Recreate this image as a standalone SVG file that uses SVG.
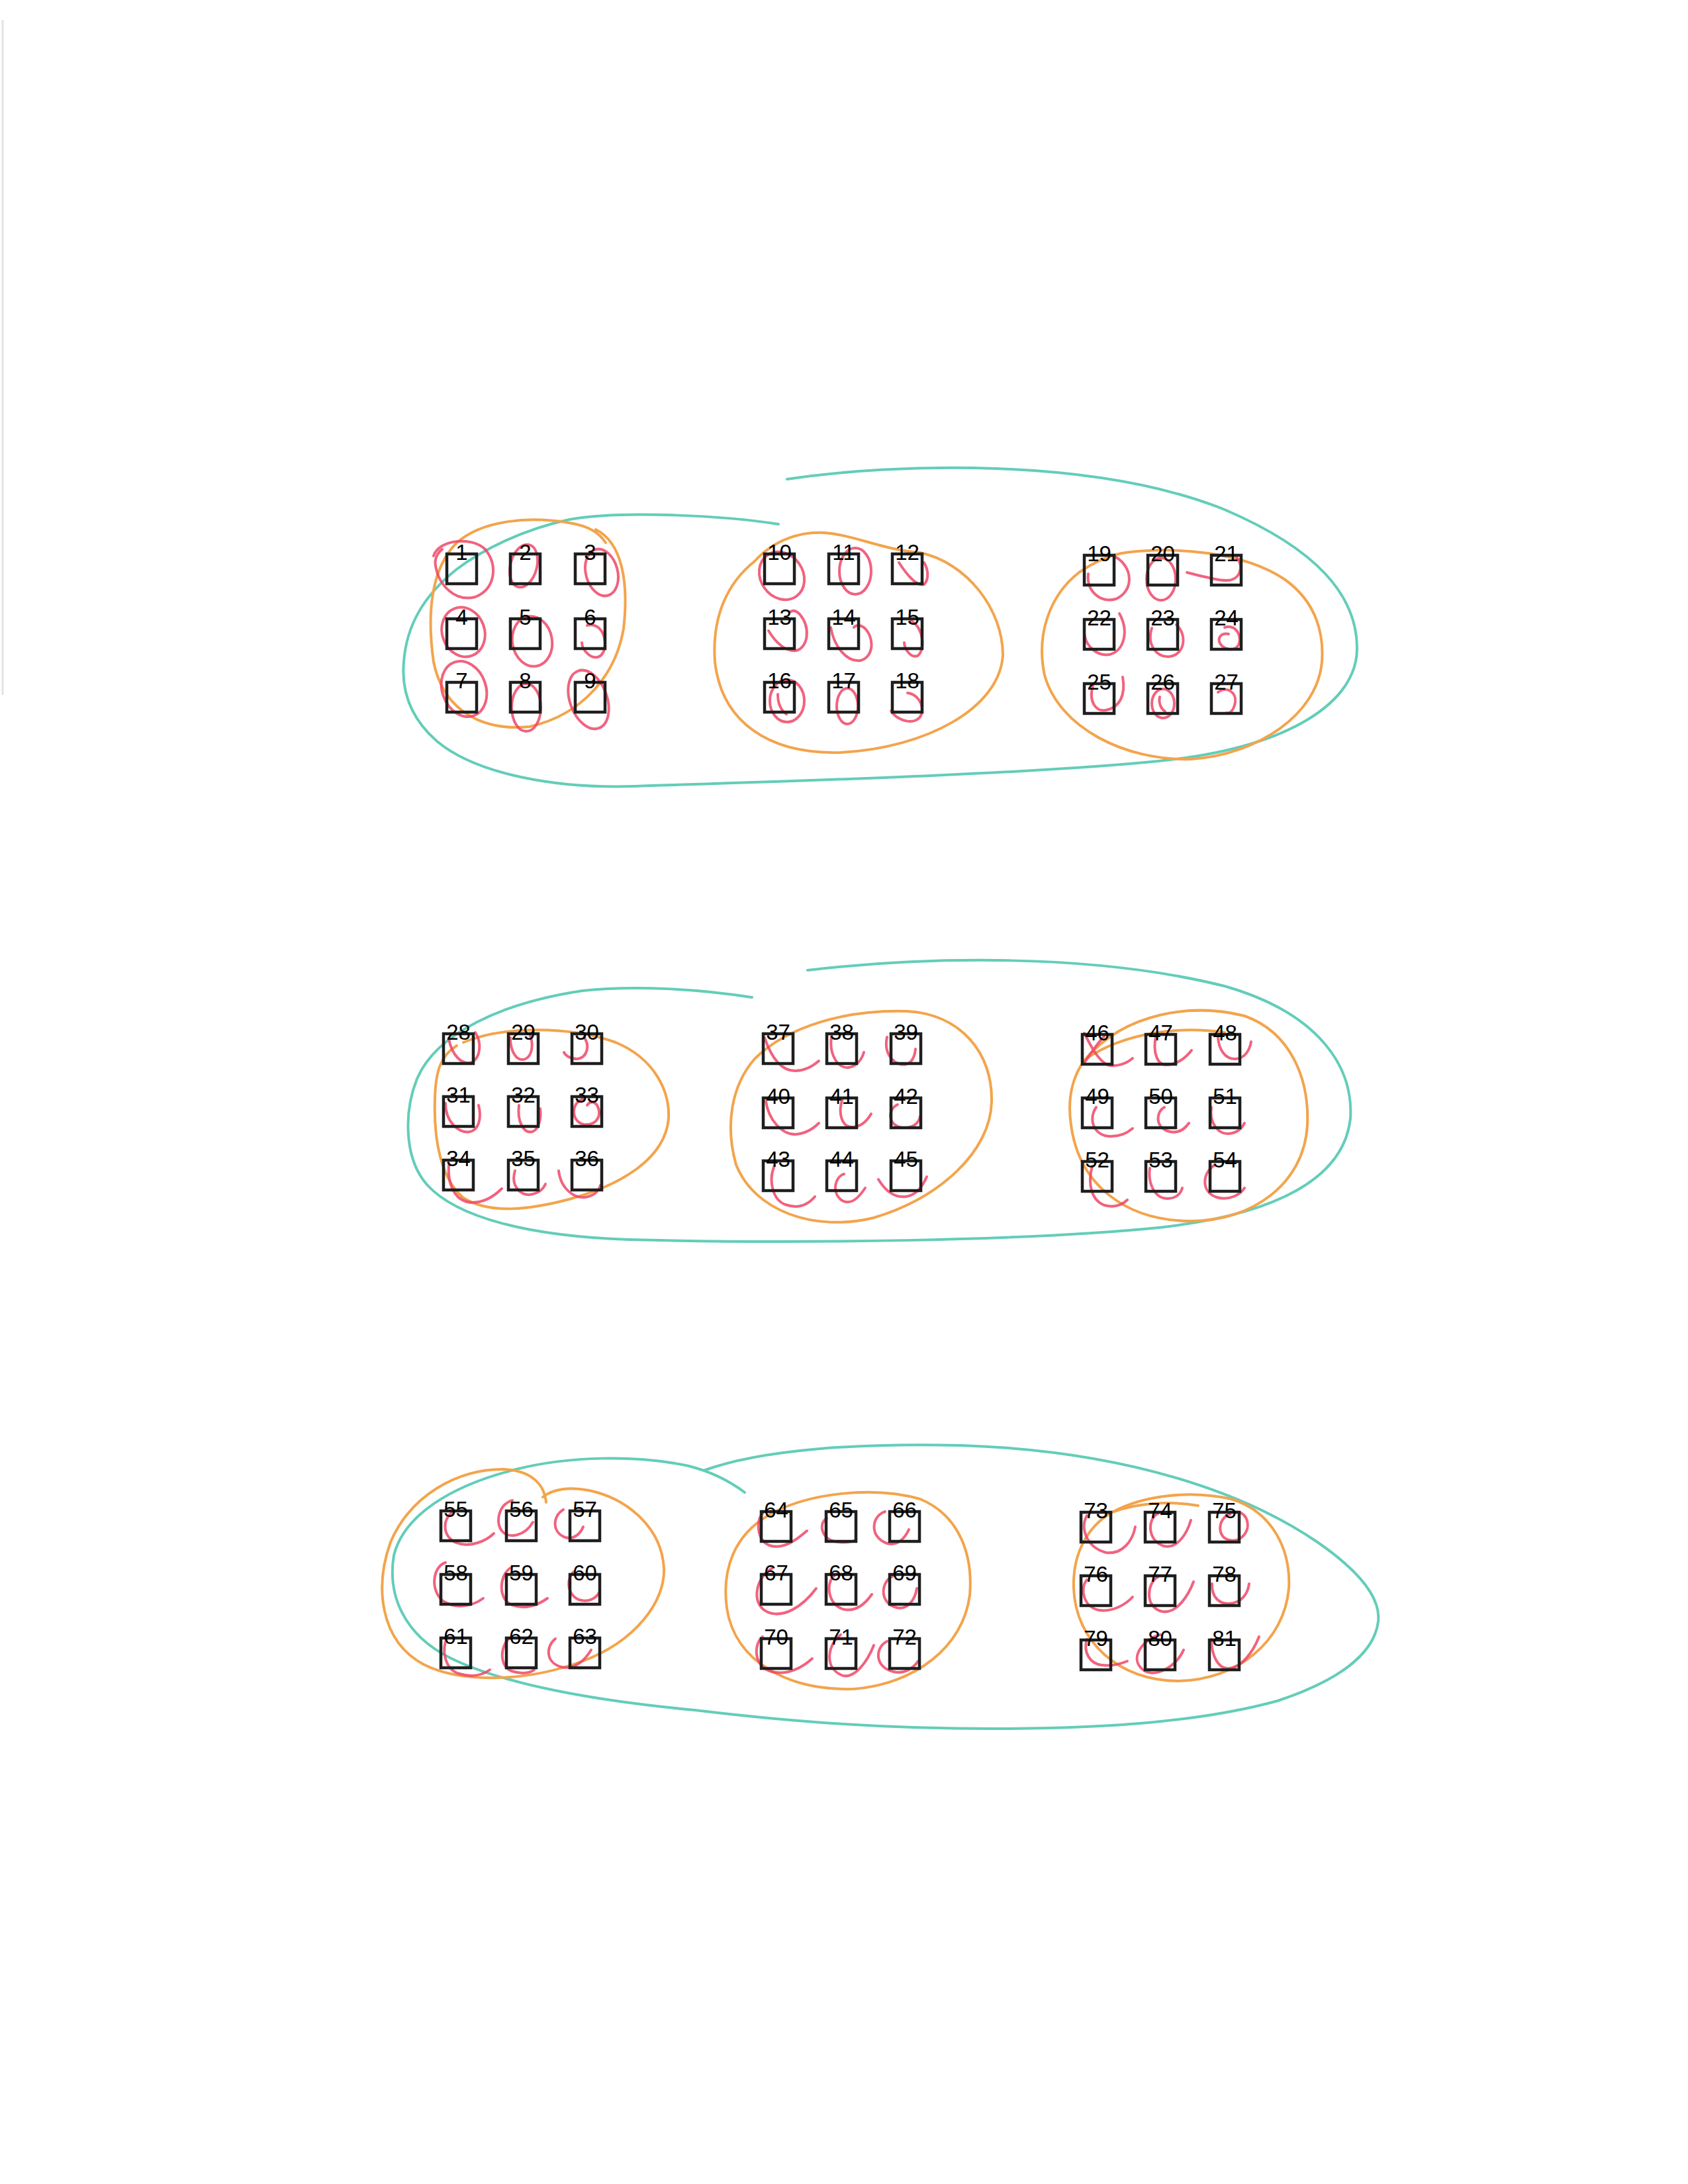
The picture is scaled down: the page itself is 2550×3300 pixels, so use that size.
<svg xmlns="http://www.w3.org/2000/svg" width="2550" height="3300" viewBox="0 0 2550 3300">
<style>
.sq{fill:none;stroke:#1e1e1e;stroke-width:4.5}
.lbl{font-family:"Liberation Sans",Arial,sans-serif;font-size:33px;text-anchor:middle;fill:#000}
.r{fill:none;stroke:#ee4767;stroke-width:4;stroke-linecap:round;opacity:0.85}
.o{fill:none;stroke:#f3a44c;stroke-width:4;stroke-linecap:round}
.t{fill:none;stroke:#63cdb9;stroke-width:4;stroke-linecap:round}
</style>
<rect x="0" y="0" width="2550" height="3300" fill="#fff"/>
<line x1="4" y1="30" x2="4" y2="1050" stroke="#e2e2e2" stroke-width="3"/>
<g id="groupings">
<path class="t" d="M 1189 724 C 1350 700, 1650 690, 1850 770 C 1990 830, 2050 900, 2050 980 C 2050 1060, 1950 1130, 1750 1150 C 1550 1170, 1200 1180, 960 1188 C 840 1192, 720 1170, 660 1120 C 620 1085, 606 1045, 610 1000 C 614 945, 640 900, 690 860 C 730 830, 790 800, 860 785 C 940 770, 1100 780, 1176 792"/>
<path class="o" d="M 900 800 C 940 820, 950 880, 942 950 C 930 1020, 880 1080, 800 1098 C 730 1105, 670 1075, 655 1000 C 645 930, 650 860, 690 820 C 730 785, 800 780, 860 790 C 890 795, 905 805, 915 820"/>
<path class="o" d="M 1140 848 C 1170 815, 1210 803, 1245 805 C 1290 808, 1330 830, 1390 835 C 1460 850, 1515 920, 1515 990 C 1510 1070, 1400 1130, 1270 1137 C 1160 1140, 1090 1090, 1080 1000 C 1075 930, 1100 880, 1140 848 Z"/>
<path class="o" d="M 1700 835 C 1780 825, 1880 835, 1940 875 C 1990 910, 2000 960, 1997 1000 C 1990 1080, 1900 1140, 1800 1147 C 1700 1150, 1600 1100, 1578 1020 C 1565 960, 1585 900, 1630 865 C 1655 848, 1680 838, 1700 835 Z"/>
<path class="t" d="M 1220 1466 C 1400 1445, 1650 1440, 1850 1490 C 1990 1530, 2045 1610, 2040 1690 C 2030 1780, 1930 1835, 1750 1855 C 1550 1875, 1200 1880, 950 1873 C 800 1868, 690 1840, 645 1790 C 610 1750, 610 1680, 630 1630 C 660 1560, 760 1515, 880 1497 C 960 1488, 1060 1495, 1136 1507"/>
<path class="o" d="M 700 1575 C 760 1550, 860 1550, 930 1575 C 990 1600, 1012 1650, 1010 1690 C 1005 1750, 940 1790, 860 1812 C 800 1828, 740 1835, 700 1810 C 665 1780, 655 1720, 657 1660 C 658 1620, 665 1595, 690 1580"/>
<path class="o" d="M 1140 1600 C 1190 1550, 1280 1525, 1370 1528 C 1450 1532, 1500 1590, 1498 1665 C 1496 1740, 1420 1810, 1320 1840 C 1230 1862, 1140 1830, 1112 1760 C 1095 1700, 1105 1640, 1140 1600 Z"/>
<path class="o" d="M 1640 1600 C 1700 1530, 1800 1515, 1880 1535 C 1950 1560, 1978 1630, 1975 1700 C 1970 1790, 1890 1845, 1800 1845 C 1700 1845, 1630 1790, 1618 1700 C 1612 1660, 1620 1625, 1640 1600 C 1700 1560, 1780 1550, 1850 1560"/>
<path class="t" d="M 1063 2222 C 1150 2190, 1300 2180, 1452 2184 C 1700 2192, 1880 2255, 1990 2330 C 2055 2375, 2086 2415, 2082 2450 C 2076 2500, 2020 2540, 1930 2570 C 1820 2600, 1680 2612, 1500 2612 C 1300 2612, 1150 2596, 1050 2584 C 900 2570, 760 2545, 680 2505 C 610 2470, 585 2410, 595 2350 C 610 2290, 680 2245, 780 2220 C 860 2200, 960 2198, 1040 2215 C 1080 2225, 1105 2240, 1125 2255"/>
<path class="o" d="M 825 2270 C 822 2240, 800 2222, 760 2220 C 690 2220, 620 2260, 590 2330 C 565 2400, 575 2480, 640 2515 C 700 2545, 800 2540, 880 2510 C 960 2480, 1005 2420, 1003 2370 C 1000 2310, 950 2265, 890 2252 C 860 2246, 835 2250, 820 2262"/>
<path class="o" d="M 1160 2290 C 1220 2255, 1320 2245, 1390 2265 C 1450 2290, 1470 2350, 1465 2410 C 1455 2490, 1380 2545, 1290 2552 C 1190 2555, 1110 2510, 1098 2430 C 1090 2370, 1110 2320, 1160 2290 Z"/>
<path class="o" d="M 1680 2285 C 1730 2258, 1800 2252, 1860 2265 C 1925 2285, 1950 2345, 1947 2400 C 1940 2480, 1870 2538, 1780 2540 C 1690 2540, 1625 2480, 1622 2400 C 1620 2345, 1645 2305, 1680 2285 C 1720 2270, 1770 2268, 1810 2275"/>
</g>
<g id="nodes">
<g id="n1" transform="translate(673,835)"><path class="r" d="M -18 5 C -10 -20, 40 -25, 60 -5 C 80 20, 75 55, 45 67 C 15 75, -10 50, -15 20 C -17 10, -12 0, -5 -5"/><rect class="sq" x="2" y="2" width="45" height="45"/><text class="lbl" x="24.5" y="11">1</text></g>
<g id="n2" transform="translate(769,835)"><ellipse class="r" cx="22" cy="20" rx="20" ry="33" transform="rotate(15 22 20)"/><rect class="sq" x="2" y="2" width="45" height="45"/><text class="lbl" x="24.5" y="11">2</text></g>
<g id="n3" transform="translate(867,835)"><ellipse class="r" cx="42" cy="30" rx="24" ry="36" transform="rotate(-15 42 30)"/><rect class="sq" x="2" y="2" width="45" height="45"/><text class="lbl" x="24.5" y="11">3</text></g>
<g id="n4" transform="translate(673,933)"><ellipse class="r" cx="27" cy="22" rx="32" ry="38" transform="rotate(-20 27 22)"/><rect class="sq" x="2" y="2" width="45" height="45"/><text class="lbl" x="24.5" y="11">4</text></g>
<g id="n5" transform="translate(769,933)"><ellipse class="r" cx="35" cy="36" rx="30" ry="38" transform="rotate(-10 35 36)"/><rect class="sq" x="2" y="2" width="45" height="45"/><text class="lbl" x="24.5" y="11">5</text></g>
<g id="n6" transform="translate(867,933)"><path class="r" d="M 20 12 C 45 5, 55 45, 40 58 C 28 66, 12 50, 12 38"/><rect class="sq" x="2" y="2" width="45" height="45"/><text class="lbl" x="24.5" y="11">6</text></g>
<g id="n7" transform="translate(673,1029)"><ellipse class="r" cx="28" cy="12" rx="33" ry="43" transform="rotate(-20 28 12)"/><rect class="sq" x="2" y="2" width="45" height="45"/><text class="lbl" x="24.5" y="11">7</text></g>
<g id="n8" transform="translate(769,1029)"><ellipse class="r" cx="26" cy="40" rx="22" ry="36"/><rect class="sq" x="2" y="2" width="45" height="45"/><text class="lbl" x="24.5" y="11">8</text></g>
<g id="n9" transform="translate(867,1029)"><ellipse class="r" cx="22" cy="28" rx="28" ry="46" transform="rotate(-20 22 28)"/><rect class="sq" x="2" y="2" width="45" height="45"/><text class="lbl" x="24.5" y="11">9</text></g>
<g id="n10" transform="translate(1153,835)"><ellipse class="r" cx="28" cy="35" rx="32" ry="38" transform="rotate(-35 28 35)"/><rect class="sq" x="2" y="2" width="45" height="45"/><text class="lbl" x="24.5" y="11">10</text></g>
<g id="n11" transform="translate(1250,835)"><ellipse class="r" cx="42" cy="28" rx="24" ry="35"/><rect class="sq" x="2" y="2" width="45" height="45"/><text class="lbl" x="24.5" y="11">11</text></g>
<g id="n12" transform="translate(1346,835)"><path class="r" d="M 12 15 C 25 35, 40 52, 50 48 C 58 40, 56 25, 50 15"/><rect class="sq" x="2" y="2" width="45" height="45"/><text class="lbl" x="24.5" y="11">12</text></g>
<g id="n13" transform="translate(1153,933)"><path class="r" d="M 8 20 C 20 40, 35 52, 50 50 C 68 45, 72 15, 55 -5 C 50 -10, 45 -12, 40 -8"/><rect class="sq" x="2" y="2" width="45" height="45"/><text class="lbl" x="24.5" y="11">13</text></g>
<g id="n14" transform="translate(1250,933)"><path class="r" d="M 5 15 C 10 45, 30 68, 50 65 C 70 60, 72 30, 55 15 C 48 10, 42 12, 40 15"/><rect class="sq" x="2" y="2" width="45" height="45"/><text class="lbl" x="24.5" y="11">14</text></g>
<g id="n15" transform="translate(1346,933)"><path class="r" d="M 30 5 C 50 15, 52 50, 40 58 C 28 62, 20 45, 20 38"/><rect class="sq" x="2" y="2" width="45" height="45"/><text class="lbl" x="24.5" y="11">15</text></g>
<g id="n16" transform="translate(1153,1029)"><ellipse class="r" cx="36" cy="30" rx="26" ry="32"/><path class="r" d="M 22 20 C 22 35, 28 45, 35 50"/><rect class="sq" x="2" y="2" width="45" height="45"/><text class="lbl" x="24.5" y="11">16</text></g>
<g id="n17" transform="translate(1250,1029)"><ellipse class="r" cx="30" cy="38" rx="16" ry="27"/><rect class="sq" x="2" y="2" width="45" height="45"/><text class="lbl" x="24.5" y="11">17</text></g>
<g id="n18" transform="translate(1346,1029)"><path class="r" d="M 0 45 C 10 62, 40 68, 46 50 C 50 35, 40 20, 25 18"/><rect class="sq" x="2" y="2" width="45" height="45"/><text class="lbl" x="24.5" y="11">18</text></g>
<g id="n19" transform="translate(1636,837)"><path class="r" d="M 50 5 C 75 20, 78 55, 50 68 C 25 75, 5 55, 8 30"/><rect class="sq" x="2" y="2" width="45" height="45"/><text class="lbl" x="24.5" y="11">19</text></g>
<g id="n20" transform="translate(1732,837)"><ellipse class="r" cx="22" cy="38" rx="22" ry="32"/><rect class="sq" x="2" y="2" width="45" height="45"/><text class="lbl" x="24.5" y="11">20</text></g>
<g id="n21" transform="translate(1828,837)"><path class="r" d="M 40 5 C 52 20, 45 40, 25 40 C 15 40, 5 38, -35 28"/><rect class="sq" x="2" y="2" width="45" height="45"/><text class="lbl" x="24.5" y="11">21</text></g>
<g id="n22" transform="translate(1636,934)"><path class="r" d="M 2 15 C 0 40, 20 58, 40 55 C 62 50, 70 20, 55 -7"/><rect class="sq" x="2" y="2" width="45" height="45"/><text class="lbl" x="24.5" y="11">22</text></g>
<g id="n23" transform="translate(1732,934)"><path class="r" d="M 8 15 C 0 40, 15 60, 35 58 C 58 55, 62 25, 45 10"/><rect class="sq" x="2" y="2" width="45" height="45"/><text class="lbl" x="24.5" y="11">23</text></g>
<g id="n24" transform="translate(1828,934)"><path class="r" d="M 22 14 C 40 8, 50 30, 42 42 C 34 52, 18 46, 14 36 C 12 28, 18 22, 28 24"/><rect class="sq" x="2" y="2" width="45" height="45"/><text class="lbl" x="24.5" y="11">24</text></g>
<g id="n25" transform="translate(1636,1031)"><path class="r" d="M 15 5 C 8 30, 20 45, 35 42 C 55 38, 65 20, 60 -8"/><rect class="sq" x="2" y="2" width="45" height="45"/><text class="lbl" x="24.5" y="11">25</text></g>
<g id="n26" transform="translate(1732,1031)"><ellipse class="r" cx="25" cy="32" rx="17" ry="22"/><path class="r" d="M 20 22 C 18 32, 22 40, 28 44"/><rect class="sq" x="2" y="2" width="45" height="45"/><text class="lbl" x="24.5" y="11">26</text></g>
<g id="n27" transform="translate(1828,1031)"><path class="r" d="M 12 15 C 25 5, 40 15, 38 30 C 36 42, 30 48, 25 46"/><rect class="sq" x="2" y="2" width="45" height="45"/><text class="lbl" x="24.5" y="11">27</text></g>
<g id="n28" transform="translate(668,1560)"><path class="r" d="M 10 10 C 15 35, 30 50, 45 45 C 58 38, 60 15, 50 0"/><rect class="sq" x="2" y="2" width="45" height="45"/><text class="lbl" x="24.5" y="11">28</text></g>
<g id="n29" transform="translate(766,1560)"><path class="r" d="M 5 8 C 5 30, 15 45, 28 40 C 38 35, 40 18, 35 5"/><rect class="sq" x="2" y="2" width="45" height="45"/><text class="lbl" x="24.5" y="11">29</text></g>
<g id="n30" transform="translate(862,1560)"><path class="r" d="M 20 7 C 30 20, 25 38, 10 40 C 0 40, -8 35, -10 30"/><rect class="sq" x="2" y="2" width="45" height="45"/><text class="lbl" x="24.5" y="11">30</text></g>
<g id="n31" transform="translate(668,1655)"><path class="r" d="M 5 12 C 5 40, 25 58, 42 55 C 55 52, 60 35, 55 15"/><rect class="sq" x="2" y="2" width="45" height="45"/><text class="lbl" x="24.5" y="11">31</text></g>
<g id="n32" transform="translate(766,1655)"><path class="r" d="M 18 15 C 15 40, 25 58, 38 55 C 48 52, 52 35, 50 20"/><rect class="sq" x="2" y="2" width="45" height="45"/><text class="lbl" x="24.5" y="11">32</text></g>
<g id="n33" transform="translate(862,1655)"><path class="r" d="M 20 5 C 0 10, 0 40, 20 44 C 40 46, 48 30, 40 15 C 35 8, 28 10, 25 15"/><rect class="sq" x="2" y="2" width="45" height="45"/><text class="lbl" x="24.5" y="11">33</text></g>
<g id="n34" transform="translate(668,1751)"><path class="r" d="M 10 10 C 8 40, 20 65, 45 66 C 65 66, 80 55, 90 45"/><rect class="sq" x="2" y="2" width="45" height="45"/><text class="lbl" x="24.5" y="11">34</text></g>
<g id="n35" transform="translate(766,1751)"><path class="r" d="M 12 18 C 5 40, 20 56, 35 54 C 48 52, 55 45, 58 38"/><rect class="sq" x="2" y="2" width="45" height="45"/><text class="lbl" x="24.5" y="11">35</text></g>
<g id="n36" transform="translate(862,1751)"><path class="r" d="M -18 18 C -15 45, 5 60, 22 58 C 35 56, 42 50, 45 40"/><rect class="sq" x="2" y="2" width="45" height="45"/><text class="lbl" x="24.5" y="11">36</text></g>
<g id="n37" transform="translate(1151,1560)"><path class="r" d="M 4 8 C 15 40, 30 58, 50 58 C 65 58, 78 50, 86 43"/><rect class="sq" x="2" y="2" width="45" height="45"/><text class="lbl" x="24.5" y="11">37</text></g>
<g id="n38" transform="translate(1247,1560)"><path class="r" d="M 9 7 C 5 35, 20 55, 35 53 C 48 51, 55 40, 58 30"/><rect class="sq" x="2" y="2" width="45" height="45"/><text class="lbl" x="24.5" y="11">38</text></g>
<g id="n39" transform="translate(1344,1560)"><path class="r" d="M -4 7 C -10 35, 10 52, 25 48 C 35 45, 38 35, 39 25"/><rect class="sq" x="2" y="2" width="45" height="45"/><text class="lbl" x="24.5" y="11">39</text></g>
<g id="n40" transform="translate(1151,1657)"><path class="r" d="M 6 7 C 10 35, 30 57, 50 57 C 65 56, 78 48, 86 40"/><rect class="sq" x="2" y="2" width="45" height="45"/><text class="lbl" x="24.5" y="11">40</text></g>
<g id="n41" transform="translate(1247,1657)"><path class="r" d="M 26 3 C 18 25, 25 46, 40 46 C 52 46, 62 38, 69 26"/><rect class="sq" x="2" y="2" width="45" height="45"/><text class="lbl" x="24.5" y="11">41</text></g>
<g id="n42" transform="translate(1344,1657)"><path class="r" d="M 12 12 C -5 20, -2 45, 20 47 C 35 48, 44 40, 46 30"/><rect class="sq" x="2" y="2" width="45" height="45"/><text class="lbl" x="24.5" y="11">42</text></g>
<g id="n43" transform="translate(1151,1752)"><path class="r" d="M 19 9 C 10 30, 15 60, 35 68 C 55 75, 70 68, 80 56"/><rect class="sq" x="2" y="2" width="45" height="45"/><text class="lbl" x="24.5" y="11">43</text></g>
<g id="n44" transform="translate(1247,1752)"><path class="r" d="M 28 22 C 15 25, 8 50, 25 62 C 40 70, 52 55, 60 43"/><rect class="sq" x="2" y="2" width="45" height="45"/><text class="lbl" x="24.5" y="11">44</text></g>
<g id="n45" transform="translate(1344,1752)"><path class="r" d="M -17 30 C -5 50, 10 58, 25 56 C 40 54, 50 40, 56 26"/><rect class="sq" x="2" y="2" width="45" height="45"/><text class="lbl" x="24.5" y="11">45</text></g>
<g id="n46" transform="translate(1633,1561)"><path class="r" d="M 5 0 C 15 20, 25 40, 40 48 C 55 52, 70 45, 78 38 M 5 45 C 15 30, 25 15, 35 5"/><rect class="sq" x="2" y="2" width="45" height="45"/><text class="lbl" x="24.5" y="11">46</text></g>
<g id="n47" transform="translate(1729,1561)"><path class="r" d="M 17 6 C 12 30, 20 48, 32 48 C 48 48, 62 38, 71 26"/><rect class="sq" x="2" y="2" width="45" height="45"/><text class="lbl" x="24.5" y="11">47</text></g>
<g id="n48" transform="translate(1826,1561)"><path class="r" d="M 14 6 C 15 25, 25 40, 41 39 C 55 38, 62 25, 64 13"/><rect class="sq" x="2" y="2" width="45" height="45"/><text class="lbl" x="24.5" y="11">48</text></g>
<g id="n49" transform="translate(1633,1657)"><path class="r" d="M 23 16 C 10 35, 20 60, 45 60 C 60 60, 70 55, 78 48"/><rect class="sq" x="2" y="2" width="45" height="45"/><text class="lbl" x="24.5" y="11">49</text></g>
<g id="n50" transform="translate(1729,1657)"><path class="r" d="M 30 16 C 18 22, 15 45, 35 52 C 50 57, 60 50, 67 40"/><rect class="sq" x="2" y="2" width="45" height="45"/><text class="lbl" x="24.5" y="11">50</text></g>
<g id="n51" transform="translate(1826,1657)"><path class="r" d="M 4 16 C 0 40, 15 57, 30 56 C 42 55, 50 48, 54 40"/><rect class="sq" x="2" y="2" width="45" height="45"/><text class="lbl" x="24.5" y="11">51</text></g>
<g id="n52" transform="translate(1633,1753)"><path class="r" d="M 17 9 C 10 35, 15 60, 35 68 C 50 72, 62 68, 70 60"/><rect class="sq" x="2" y="2" width="45" height="45"/><text class="lbl" x="24.5" y="11">52</text></g>
<g id="n53" transform="translate(1729,1753)"><path class="r" d="M 8 12 C 5 35, 15 58, 35 58 C 48 58, 55 50, 57 42"/><rect class="sq" x="2" y="2" width="45" height="45"/><text class="lbl" x="24.5" y="11">53</text></g>
<g id="n54" transform="translate(1826,1753)"><path class="r" d="M 8 8 C -10 20, -12 48, 12 56 C 30 62, 48 52, 54 42"/><rect class="sq" x="2" y="2" width="45" height="45"/><text class="lbl" x="24.5" y="11">54</text></g>
<g id="n55" transform="translate(664,2281)"><path class="r" d="M 22 3 C 5 10, 2 40, 25 50 C 45 58, 70 48, 82 36"/><rect class="sq" x="2" y="2" width="45" height="45"/><text class="lbl" x="24.5" y="11">55</text></g>
<g id="n56" transform="translate(763,2281)"><path class="r" d="M 11 -14 C -10 -8, -15 20, -5 32 C 5 45, 30 40, 42 19"/><rect class="sq" x="2" y="2" width="45" height="45"/><text class="lbl" x="24.5" y="11">56</text></g>
<g id="n57" transform="translate(859,2281)"><path class="r" d="M -8 0 C -25 10, -25 35, -5 42 C 8 46, 18 36, 22 26"/><rect class="sq" x="2" y="2" width="45" height="45"/><text class="lbl" x="24.5" y="11">57</text></g>
<g id="n58" transform="translate(664,2377)"><path class="r" d="M 9 -16 C -10 -10, -15 25, 5 42 C 25 55, 50 50, 66 38"/><rect class="sq" x="2" y="2" width="45" height="45"/><text class="lbl" x="24.5" y="11">58</text></g>
<g id="n59" transform="translate(763,2377)"><path class="r" d="M 8 -8 C -10 5, -10 40, 10 48 C 30 56, 50 48, 64 38"/><rect class="sq" x="2" y="2" width="45" height="45"/><text class="lbl" x="24.5" y="11">59</text></g>
<g id="n60" transform="translate(859,2377)"><path class="r" d="M 8 -2 C -2 5, -5 30, 15 40 C 30 45, 42 38, 47 28"/><rect class="sq" x="2" y="2" width="45" height="45"/><text class="lbl" x="24.5" y="11">60</text></g>
<g id="n61" transform="translate(664,2473)"><path class="r" d="M 12 0 C 2 20, 8 50, 30 56 C 50 62, 65 58, 76 50"/><rect class="sq" x="2" y="2" width="45" height="45"/><text class="lbl" x="24.5" y="11">61</text></g>
<g id="n62" transform="translate(763,2473)"><path class="r" d="M 10 0 C -8 10, -10 45, 10 52 C 25 57, 38 55, 44 50"/><rect class="sq" x="2" y="2" width="45" height="45"/><text class="lbl" x="24.5" y="11">62</text></g>
<g id="n63" transform="translate(859,2473)"><path class="r" d="M -20 3 C -35 15, -35 40, -10 46 C 10 50, 25 35, 34 20"/><rect class="sq" x="2" y="2" width="45" height="45"/><text class="lbl" x="24.5" y="11">63</text></g>
<g id="n64" transform="translate(1148,2282)"><path class="r" d="M 4 5 C -6 15, -5 45, 14 53 C 35 60, 55 45, 71 31"/><rect class="sq" x="2" y="2" width="45" height="45"/><text class="lbl" x="24.5" y="11">64</text></g>
<g id="n65" transform="translate(1246,2282)"><path class="r" d="M 3 12 C -10 20, -5 42, 14 47 C 28 50, 40 48, 47 45"/><rect class="sq" x="2" y="2" width="45" height="45"/><text class="lbl" x="24.5" y="11">65</text></g>
<g id="n66" transform="translate(1342,2282)"><path class="r" d="M -5 2 C -25 8, -30 40, -2 50 C 15 55, 26 40, 31 29"/><rect class="sq" x="2" y="2" width="45" height="45"/><text class="lbl" x="24.5" y="11">66</text></g>
<g id="n67" transform="translate(1148,2377)"><path class="r" d="M 18 -7 C -5 5, -15 45, 10 58 C 35 70, 65 50, 85 23"/><rect class="sq" x="2" y="2" width="45" height="45"/><text class="lbl" x="24.5" y="11">67</text></g>
<g id="n68" transform="translate(1246,2377)"><path class="r" d="M 15 3 C 0 15, 5 50, 30 55 C 48 58, 62 45, 71 32"/><rect class="sq" x="2" y="2" width="45" height="45"/><text class="lbl" x="24.5" y="11">68</text></g>
<g id="n69" transform="translate(1342,2377)"><path class="r" d="M 10 3 C -12 10, -15 45, 12 52 C 28 56, 40 42, 43 23"/><rect class="sq" x="2" y="2" width="45" height="45"/><text class="lbl" x="24.5" y="11">69</text></g>
<g id="n70" transform="translate(1148,2474)"><path class="r" d="M 4 -1 C -10 10, -10 45, 18 52 C 42 58, 65 45, 79 32"/><rect class="sq" x="2" y="2" width="45" height="45"/><text class="lbl" x="24.5" y="11">70</text></g>
<g id="n71" transform="translate(1246,2474)"><path class="r" d="M 24 -4 C 5 10, -2 45, 25 57 C 45 65, 65 35, 74 12"/><rect class="sq" x="2" y="2" width="45" height="45"/><text class="lbl" x="24.5" y="11">71</text></g>
<g id="n72" transform="translate(1342,2474)"><path class="r" d="M -2 6 C -20 15, -22 45, 8 52 C 25 56, 38 46, 45 36"/><rect class="sq" x="2" y="2" width="45" height="45"/><text class="lbl" x="24.5" y="11">72</text></g>
<g id="n73" transform="translate(1631,2283)"><path class="r" d="M 11 7 C 0 25, 10 55, 40 63 C 65 66, 80 45, 84 24"/><rect class="sq" x="2" y="2" width="45" height="45"/><text class="lbl" x="24.5" y="11">73</text></g>
<g id="n74" transform="translate(1728,2283)"><path class="r" d="M 21 4 C 5 12, 5 45, 30 53 C 50 58, 65 35, 71 14"/><rect class="sq" x="2" y="2" width="45" height="45"/><text class="lbl" x="24.5" y="11">74</text></g>
<g id="n75" transform="translate(1825,2283)"><path class="r" d="M 33 5 C 15 10, 12 40, 32 44 C 50 48, 65 30, 58 12 C 55 5, 48 0, 40 2"/><rect class="sq" x="2" y="2" width="45" height="45"/><text class="lbl" x="24.5" y="11">75</text></g>
<g id="n76" transform="translate(1631,2379)"><path class="r" d="M 11 8 C 0 20, 5 50, 30 54 C 50 57, 70 45, 80 34"/><rect class="sq" x="2" y="2" width="45" height="45"/><text class="lbl" x="24.5" y="11">76</text></g>
<g id="n77" transform="translate(1728,2379)"><path class="r" d="M 21 4 C 5 12, 0 50, 28 56 C 50 60, 68 30, 75 11"/><rect class="sq" x="2" y="2" width="45" height="45"/><text class="lbl" x="24.5" y="11">77</text></g>
<g id="n78" transform="translate(1825,2379)"><path class="r" d="M 6 14 C 5 35, 18 45, 32 44 C 50 43, 60 30, 62 14"/><rect class="sq" x="2" y="2" width="45" height="45"/><text class="lbl" x="24.5" y="11">78</text></g>
<g id="n79" transform="translate(1631,2476)"><path class="r" d="M 11 1 C 5 20, 15 38, 34 40 C 50 42, 62 38, 72 34"/><rect class="sq" x="2" y="2" width="45" height="45"/><text class="lbl" x="24.5" y="11">79</text></g>
<g id="n80" transform="translate(1728,2476)"><path class="r" d="M 25 -6 C 0 0, -25 30, 0 48 C 20 60, 50 40, 60 17"/><rect class="sq" x="2" y="2" width="45" height="45"/><text class="lbl" x="24.5" y="11">80</text></g>
<g id="n81" transform="translate(1825,2476)"><path class="r" d="M 5 1 C 5 25, 15 45, 30 45 C 50 45, 68 20, 77 -3"/><rect class="sq" x="2" y="2" width="45" height="45"/><text class="lbl" x="24.5" y="11">81</text></g>
</g>
<g id="connectors"></g>
</svg>
